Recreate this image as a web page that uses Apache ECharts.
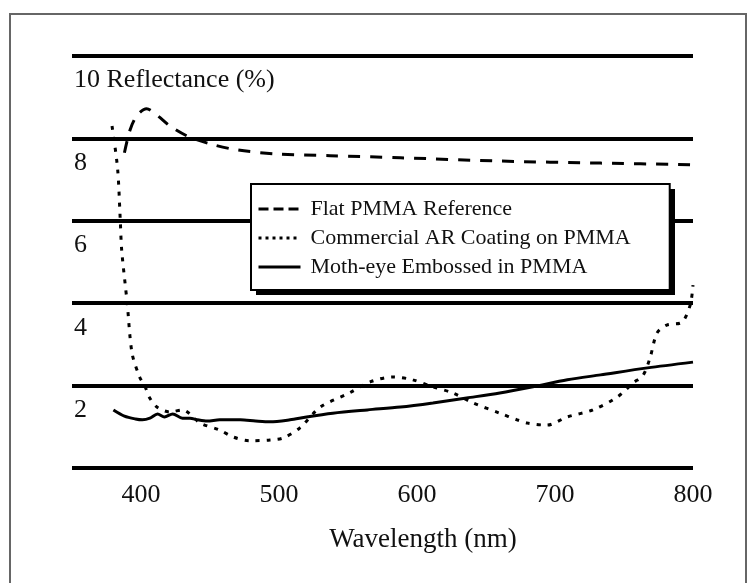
<!DOCTYPE html>
<html>
<head>
<meta charset="utf-8">
<title>Reflectance vs Wavelength</title>
<script src="https://cdn.jsdelivr.net/npm/echarts@6/dist/echarts.min.js"></script>
<style>
  html, body { margin: 0; padding: 0; background: #fff; }
  #chart { width: 750px; height: 583px; }
</style>
</head>
<body>
<div id="chart"></div>
<script>
// Wavelength (nm) / reflectance (%) pairs for each sample
const flatPmma = [
  [388, 7.65], [392, 8.2], [397, 8.55], [404, 8.72], [412, 8.55], [421, 8.3],
  [434, 8.05], [452, 7.85], [470, 7.72], [499, 7.62], [537, 7.58], [588, 7.53],
  [660, 7.45], [733, 7.4], [800, 7.36]
];
const commercialAr = [
  [379, 8.3], [383, 7.28], [385, 6.0], [386, 5.29], [390, 4.0], [393.5, 2.79],
  [399, 2.21], [403, 1.97], [406, 1.72], [411.5, 1.48], [421, 1.36], [430, 1.41],
  [443, 1.09], [457, 0.92], [467, 0.75], [479, 0.66], [493.5, 0.68], [503, 0.73],
  [515, 0.97], [530, 1.48], [551, 1.82], [566, 2.09], [582.5, 2.21], [597, 2.14],
  [611.5, 1.97], [626, 1.82], [640.5, 1.58], [660, 1.33], [672.5, 1.17], [680, 1.09],
  [694, 1.04], [709, 1.24], [727.5, 1.41], [745, 1.72], [756.5, 2.06], [764, 2.26],
  [769, 2.69], [774, 3.28], [781, 3.47], [792, 3.54], [798, 3.96], [800, 4.44]
];
const mothEye = [
  [380, 1.41], [388, 1.26], [396, 1.19], [401, 1.17], [406.5, 1.21], [412, 1.31],
  [417, 1.24], [423, 1.31], [430, 1.21], [435.5, 1.21], [441, 1.17], [448, 1.14],
  [457, 1.17], [472, 1.17], [483, 1.14], [493.5, 1.12], [508, 1.17], [520, 1.24],
  [539, 1.33], [564, 1.41], [588, 1.48], [611.5, 1.58], [636, 1.70], [660, 1.82],
  [684, 1.97], [709, 2.14], [733, 2.26], [767, 2.43], [800, 2.57]
];
const xTicks = [400, 500, 600, 700, 800];
const seriesNames = ['Flat PMMA Reference', 'Commercial AR Coating on PMMA', 'Moth-eye Embossed in PMMA'];

const serif = '"Liberation Serif", "DejaVu Serif", serif';
const ink = '#111';

// legend box placement (the drop shadow is drawn as its own block behind it)
const legendBox = { left: 251, top: 184, width: 419, height: 106 };

const chart = echarts.init(document.getElementById('chart'), null, { renderer: 'canvas' });

chart.setOption({
  backgroundColor: '#fff',
  animation: false,
  graphic: [
    {
      type: 'rect',
      shape: { x: 10, y: 14, width: 736, height: 600 },
      style: { fill: 'none', stroke: '#666', lineWidth: 2 },
      silent: true,
      z: -1
    },
    {
      type: 'rect',
      shape: { x: legendBox.left + 5, y: legendBox.top + 5, width: legendBox.width, height: legendBox.height },
      style: { fill: '#000' },
      silent: true,
      z: 3
    }
  ],
  grid: { left: 72, right: 57, top: 56, bottom: 115, containLabel: false },
  xAxis: {
    type: 'value',
    min: 350,
    max: 800,
    name: 'Wavelength (nm)',
    nameLocation: 'middle',
    nameGap: 58,
    nameTextStyle: { fontFamily: serif, fontSize: 27, color: ink, padding: [0, 0, 0, 81] },
    axisLine: { show: false },
    axisTick: { show: false },
    splitLine: { show: false },
    axisLabel: {
      customValues: xTicks,
      margin: 14,
      fontFamily: serif, fontSize: 26, color: ink
    }
  },
  yAxis: {
    type: 'value',
    min: 0,
    max: 10,
    interval: 2,
    axisLine: { show: false },
    axisTick: { show: false },
    splitLine: { show: true, lineStyle: { color: '#000', width: 4 } },
    axisLabel: {
      inside: true,
      margin: 2,
      align: 'left',
      verticalAlign: 'top',
      lineHeight: 49,
      fontFamily: serif, fontSize: 26, color: ink,
      formatter: v => v === 0 ? '' : (v === 10 ? '10 Reflectance (%)' : String(v))
    }
  },
  legend: {
    orient: 'vertical',
    left: legendBox.left,
    top: legendBox.top,
    z: 4,
    itemWidth: 42,
    itemHeight: 14,
    itemGap: 7,
    padding: [14, 39, 12, 6],
    backgroundColor: '#fff',
    borderColor: '#000',
    borderWidth: 2,
    itemStyle: { opacity: 0 },
    textStyle: { fontFamily: serif, fontSize: 22, color: ink, padding: [0, 0, 0, 5] },
    data: [
      { name: seriesNames[0], lineStyle: { type: [10, 5], width: 3, color: '#000' } },
      { name: seriesNames[1], lineStyle: { type: [3, 4], width: 3, color: '#000' } },
      { name: seriesNames[2], lineStyle: { type: 'solid', width: 3, color: '#000' } }
    ]
  },
  series: [
    {
      name: seriesNames[0], type: 'line', data: flatPmma,
      showSymbol: false, symbol: 'none', smooth: 0.3, color: '#000',
      lineStyle: { color: '#000', width: 3, type: [12, 10] }
    },
    {
      name: seriesNames[1], type: 'line', data: commercialAr,
      showSymbol: false, symbol: 'none', smooth: 0.3, color: '#000',
      lineStyle: { color: '#000', width: 3, type: [4, 7] }
    },
    {
      name: seriesNames[2], type: 'line', data: mothEye,
      showSymbol: false, symbol: 'none', smooth: 0.3, color: '#000',
      lineStyle: { color: '#000', width: 3, type: 'solid' }
    }
  ]
});
</script>
</body>
</html>
